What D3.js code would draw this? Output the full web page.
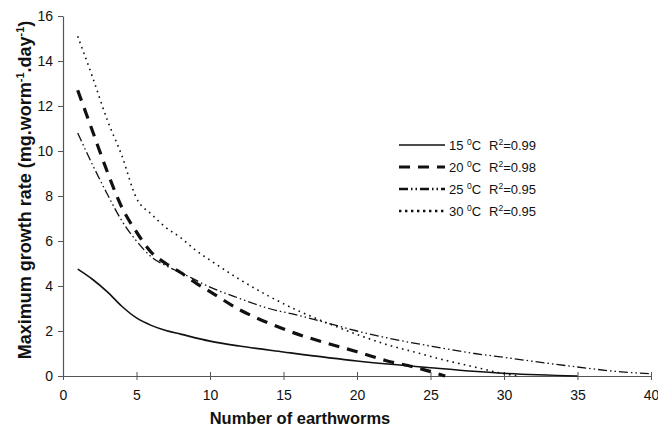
<!DOCTYPE html>
<html>
<head>
<meta charset="utf-8">
<script src="https://cdn.jsdelivr.net/npm/d3@7"></script>
<style>
    body { margin: 0; background: #fff; }
    svg { display: block; font-family: Arial, "Liberation Sans", sans-serif; }
</style>
</head>
<body>
<div id="chart"></div>
<script>
// data
const earthworms_15 = [1, 2, 3, 4, 5, 6, 7, 8, 10, 12, 15, 20, 25, 30, 35];
const growth_15 = [4.75, 4.3, 3.75, 3.1, 2.58, 2.25, 2.02, 1.86, 1.55, 1.33, 1.07, 0.67, 0.37, 0.12, 0];

const earthworms_20 = [1, 2, 3, 4, 5, 6, 7, 8, 9, 10, 12, 14, 16, 18, 20, 22, 24, 26];
const growth_20 = [12.7, 10.9, 9.1, 7.5, 6.4, 5.5, 5.0, 4.6, 4.15, 3.75, 2.95, 2.35, 1.85, 1.45, 1.08, 0.68, 0.38, 0];

const earthworms_25 = [1, 2, 3, 4, 5, 6, 7, 8, 10, 12, 14, 16, 18, 20, 22, 25, 28, 30, 32, 35, 38, 40];
const growth_25 = [10.8, 9.4, 8.1, 6.9, 6.0, 5.3, 4.9, 4.6, 3.95, 3.45, 3.0, 2.7, 2.35, 2.0, 1.7, 1.33, 1.0, 0.83, 0.65, 0.4, 0.18, 0.1];

const earthworms_30 = [1, 2, 3, 4, 5, 6, 7, 8, 9, 10, 12, 14, 16, 18, 20, 22, 24, 26, 28, 30, 31];
const growth_30 = [15.1, 13.3, 11.4, 9.8, 7.9, 7.2, 6.6, 6.15, 5.6, 5.15, 4.3, 3.55, 2.9, 2.35, 1.85, 1.4, 1.05, 0.7, 0.4, 0.1, 0];

const series_temps = ["15", "20", "25", "30"];
const series_r2 = ["0.99", "0.98", "0.95", "0.95"];

const x_ticks = [0, 5, 10, 15, 20, 25, 30, 35, 40];
const y_ticks = [0, 2, 4, 6, 8, 10, 12, 14, 16];

function zipPoints(xs, ys) {
    return xs.map((x, i) => [x, ys[i]]);
}

const _series = [
    zipPoints(earthworms_15, growth_15),
    zipPoints(earthworms_20, growth_20),
    zipPoints(earthworms_25, growth_25),
    zipPoints(earthworms_30, growth_30)
];

// line styles per series (solid, dashed, dash-dot-dot, dotted)
const _styles = [
    { width: 1.6, dash: null },
    { width: 3.2, dash: "11,8" },
    { width: 1.3, dash: "9,3,1.5,3,1.5,3" },
    { width: 1.6, dash: "1.6,4.2" }
];

let _width = 658;
let _height = 428;

let _svg = d3.select("#chart")
    .append("svg")
    .attr("width", _width)
    .attr("height", _height);

let x = d3.scaleLinear().domain([0, 40]).range([63, 651]);
let y = d3.scaleLinear().domain([0, 16]).range([376, 16]);

let _axis_color = "#555";

// x axis
let _x_axis = _svg.append("g")
    .attr("transform", "translate(0," + y(0) + ")")
    .call(d3.axisBottom(x).tickValues(x_ticks).tickSize(4).tickPadding(10).tickSizeOuter(0));

_x_axis.select(".domain").attr("stroke", _axis_color).attr("stroke-width", 1.2);
_x_axis.selectAll(".tick line")
    .attr("stroke", _axis_color)
    .attr("y1", -4);
_x_axis.selectAll(".tick text")
    .attr("font-size", 14)
    .attr("fill", "#111");

// y axis
let _y_axis = _svg.append("g")
    .attr("transform", "translate(" + x(0) + ",0)")
    .call(d3.axisLeft(y).tickValues(y_ticks).tickSize(5).tickPadding(5).tickSizeOuter(0));

_y_axis.select(".domain").attr("stroke", _axis_color).attr("stroke-width", 1.2);
_y_axis.selectAll(".tick line").attr("stroke", _axis_color);
_y_axis.selectAll(".tick text")
    .attr("font-size", 14)
    .attr("fill", "#111");

// axis titles
_svg.append("text")
    .attr("x", 300)
    .attr("y", 424)
    .attr("text-anchor", "middle")
    .attr("font-size", 16.5)
    .attr("font-weight", "bold")
    .attr("fill", "#111")
    .text("Number of earthworms");

let _y_title = _svg.append("text")
    .attr("transform", "translate(31,190) rotate(-90)")
    .attr("text-anchor", "middle")
    .attr("font-size", 18)
    .attr("font-weight", "bold")
    .attr("fill", "#111");

_y_title.append("tspan").text("Maximum growth rate (mg.worm");
_y_title.append("tspan").attr("font-size", 11).attr("dy", -7).text("-1");
_y_title.append("tspan").attr("dy", 7).text(".day");
_y_title.append("tspan").attr("font-size", 11).attr("dy", -7).text("-1");
_y_title.append("tspan").attr("dy", 7).text(")");

// curves
let _line = d3.line()
    .x(d => x(d[0]))
    .y(d => y(d[1]))
    .curve(d3.curveMonotoneX);

_series.forEach((points, i) => {
    _svg.append("path")
        .datum(points)
        .attr("d", _line)
        .attr("fill", "none")
        .attr("stroke", "#111")
        .attr("stroke-width", _styles[i].width)
        .attr("stroke-dasharray", _styles[i].dash);
});

// legend
let _legend = _svg.append("g");

series_temps.forEach((temp, i) => {
    let _row_y = 145 + i * 22;

    _legend.append("line")
        .attr("x1", 399)
        .attr("x2", 445)
        .attr("y1", _row_y)
        .attr("y2", _row_y)
        .attr("stroke", "#111")
        .attr("stroke-width", i === 3 ? 2.4 : _styles[i].width + (i === 2 ? 1 : 0))
        .attr("stroke-dasharray", i === 3 ? "2.4,3.6" : _styles[i].dash);

    let _label = _legend.append("text")
        .attr("x", 449)
        .attr("y", _row_y + 5)
        .attr("font-size", 13)
        .attr("fill", "#111");

    _label.append("tspan").text(temp + " ");
    _label.append("tspan").attr("font-size", 8.5).attr("dy", -5).text("0");
    _label.append("tspan").attr("dy", 5).text("C");
    _label.append("tspan").attr("x", 489).text("R");
    _label.append("tspan").attr("font-size", 8.5).attr("dy", -5).text("2");
    _label.append("tspan").attr("dy", 5).text("=" + series_r2[i]);
});
</script>
</body>
</html>
